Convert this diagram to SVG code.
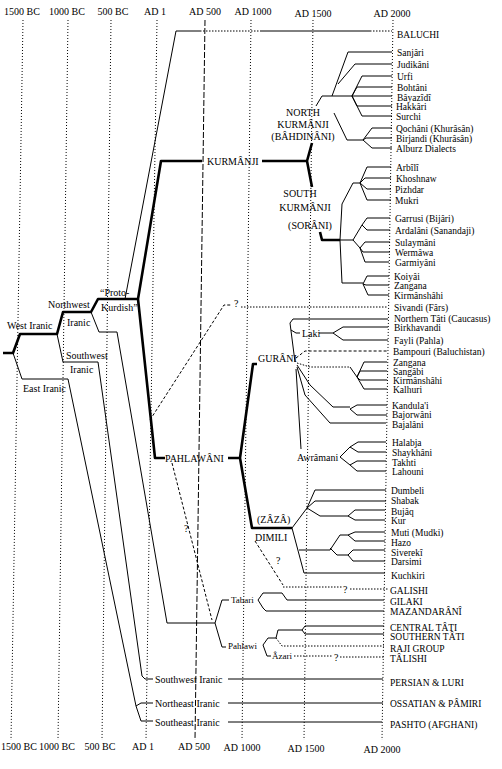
<svg xmlns="http://www.w3.org/2000/svg" width="502" height="769" viewBox="0 0 502 769">
<style>
text{font-family:"Liberation Serif","Times New Roman",serif;font-size:10px;fill:#000}
#leaves text{font-size:9.5px}
.s{font-size:9px}
.m{text-anchor:middle}
.t{stroke:#000;stroke-width:1;fill:none}
.k{stroke:#000;stroke-width:2.6;fill:none;stroke-linejoin:round}
.d{stroke-dasharray:1.5,1.5}
.q{stroke-dasharray:3,2}
.g{stroke:#000;stroke-width:1;fill:none;stroke-dasharray:1,2}
</style>
<rect width="502" height="769" fill="#fff"/>
<g id="timeline">
<path class="g" d="M23,20 L11,740 M68,20 L58,740 M111,20 L102,740 M157,20 L146,740 M251,20 L242,740 M313,20 L304,740 M393,20 L382,740"/>
<path class="g" style="stroke-dasharray:6,2" d="M205,20 L195,740"/>
<text class="m" x="22" y="15">1500 BC</text><text class="m" x="67" y="15">1000 BC</text><text class="m" x="113" y="15">500 BC</text><text class="m" x="155" y="15">AD 1</text><text class="m" x="205" y="15">AD 500</text><text class="m" x="253" y="15">AD 1000</text><text class="m" x="313" y="17">AD 1500</text><text class="m" x="392" y="17">AD 2000</text>
<text class="m" x="19" y="750">1500 BC</text><text class="m" x="57" y="750">1000 BC</text><text class="m" x="100" y="750">500 BC</text><text class="m" x="143" y="750">AD 1</text><text class="m" x="194" y="750">AD 500</text><text class="m" x="242" y="751">AD 1000</text><text class="m" x="306" y="752">AD 1500</text><text class="m" x="382" y="753">AD 2000</text>
</g>
<g id="connectors">
<path class="k" d="M3,353 H13 L20,334 H57 L63,312 H91 L98,299 H138 M138,299 L161,161 H202 M262,161 H307 L312,143 M307,161 L312,187 M320,232 L322,240 H340 M138,299 L155,458 H165 M228,458 H240 L253,364 H257 M240,458 L252,528 H292"/>
<path class="t" d="M13,353 L22,379 H68 L136,706 M141,703 L136,706 L141,721 H153 M141,703 H153"/>
<path class="t" d="M57,334 L63,362 H98 L142,676 L145,679 H153 M228,679 H383"/>
<path class="t" d="M91,312 L99,332 H117 L167,623 H215 M229,600 H222 L215,623 L222,647 H226"/>
<path class="t" d="M125,299 L176,31 H200 M260,31 H370"/>
<path class="t d" d="M200,31 H260 M370,31 H392"/>
<path class="t q" d="M172,463 L212,620 M150,420 L224,305 H232 M255,541 L283,585"/>
<path class="t d" d="M241,307 H388 M283,587 H342 M350,589 H388"/>
<path class="t" d="M316,106 L322,96 H392 M332,96 L348,52 H392 M338,84 L355,64 H392 M352,96 L362,76 H392 M352,96 L357,87 H392 M352,96 L357,106 H392 M352,96 L362,116 H392 M334,113 L347,140 H363 M363,140 L372,128 H392 M363,140 L366,138 H392 M363,140 L372,148 H392"/>
<path class="t" d="M340,240 L342,204 L353,183 H360 M360,183 L367,167 H391 M360,183 L365,178 H391 M360,183 L367,189 H391 M360,183 L367,200 H391 M340,240 H353 L362,225 M362,225 L367,218 H390 M362,225 L367,230 H390 M353,240 L360,248 M360,248 L365,242 H390 M360,248 L363,252 H390 M360,248 L365,262 H389 M340,240 L342,283 H363 M363,284 L367,276 H389 M363,284 L366,285 H389 M363,284 L368,295 H389"/>
<path class="t" d="M295,362 L290,323 L293,319 H388 M291,330 L296,333 H300 M319,333 H333 L343,327 H388 M333,333 L343,340 H388"/>
<path class="t q" d="M296,358 L305,351 H388"/>
<path class="t d" d="M297,363 L310,367 H350"/>
<path class="t" d="M350,367 L357,377 M357,377 L364,362 H387 M357,377 L360,371 H387 M357,377 L360,380 H387 M357,377 L364,389 H387"/>
<path class="t" d="M297,365 L310,385 L333,407 H350 M350,409 L357,405 H387 M350,409 L357,415 H387 M297,367 L305,395 L330,423 H386 M296,369 L301,449"/>
<path class="t" d="M340,457 L350,447 M350,447 L358,442 H386 M350,447 L358,452 H386 M340,457 L350,465 M350,465 L357,461 H386 M350,465 L357,471 H386"/>
<path class="t" d="M292,528 L307,508 M307,508 L315,490 H386 M307,508 L315,501 H386 M307,508 L320,516 H348 M348,516 L355,510 H385 M348,516 L355,520 H385 M292,528 L304,573 H385 M299,550 H330 L340,535 H348 M348,535 L355,532 H385 M348,535 L355,541 H385 M330,548 L337,555 H348 M348,555 L353,550 H385 M348,555 L353,561 H385"/>
<path class="t" d="M258,600 L263,593 H282 L287,600 H384 M258,600 L263,608 L266,611 H384"/>
<path class="t" d="M263,645 L268,638 H276 M276,638 L278,630 H302 M302,630 L305,626 H384 M302,630 L305,634 H384 M263,645 L267,656 H271"/>
<path class="t d" d="M276,638 L282,646 H384 M294,656 H332 M340,657 H384"/>
<path class="t" d="M228,703 H383 M228,722 H382"/>
</g>
<g id="n-root"><text x="7" y="328.5">West Iranic</text></g>
<g id="n-northwest"><text x="48" y="307.5">Northwest</text><text x="67" y="325.5">Iranic</text></g>
<g id="n-protokurdish"><text x="100" y="295.5">“Proto-</text><text x="101" y="310.5">Kurdish”</text></g>
<g id="n-southwest"><text x="66" y="358.5">Southwest</text><text x="70" y="372.5">Iranic</text></g>
<g id="n-east"><text x="23" y="391.5">East Iranic</text></g>
<g id="n-kurmanji"><text x="207" y="164.5">KURMÂNJI</text></g>
<g id="n-north"><text class="m" x="303" y="116">NORTH</text><text class="m" x="303" y="128">KURMÂNJI</text><text class="m" x="303" y="140">(BÂHDINÂNI)</text></g>
<g id="n-south"><text class="m" x="300" y="197">SOUTH</text><text class="m" x="305" y="211">KURMÂNJI</text><text class="m" x="310" y="228.5">(SORÂNI)</text></g>
<g id="n-pahlawani"><text x="165" y="461.5">PAHLAWÂNI</text></g>
<g id="n-gurani"><text x="258" y="362">GURÂNI</text></g>
<g id="n-dimili"><text x="257" y="522.5">(ZÂZÂ)</text><text x="255" y="540.5">DIMILI</text></g>
<g id="n-laki"><text x="302" y="336.5">Laki</text></g>
<g id="n-awramani"><text x="297" y="460.5">Awrâmani</text></g>
<g id="n-tabari"><text class="s" x="231" y="603">Tabari</text></g>
<g id="n-pahlawi"><text class="s" x="228" y="649">Pahlawi</text></g>
<g id="n-azari"><text class="s" x="272" y="659">Âzari</text></g>
<g id="n-swiranic"><text x="155" y="682.5">Southwest Iranic</text></g>
<g id="n-neiranic"><text x="155" y="706.5">Northeast Iranic</text></g>
<g id="n-seiranic"><text x="155" y="725.5">Southeast Iranic</text></g>
<g id="n-uncertain"><text x="234" y="306.5">?</text><text x="184" y="531.5">?</text><text x="276" y="563.5">?</text><text x="343" y="592.5">?</text><text x="334" y="660.5">?</text></g>
<g id="leaves">
<text x="397" y="37.5">BALUCHI</text>
<text x="397" y="55.5">Sanjâri</text>
<text x="397" y="67.5">Judikâni</text>
<text x="397" y="79.5">Urfi</text>
<text x="397" y="90.5">Bohtâni</text>
<text x="397" y="100.5">Bâyazîdî</text>
<text x="396" y="109.5">Hakkâri</text>
<text x="396" y="119.5">Surchi</text>
<text x="396" y="131.5">Qochâni (Khurâsân)</text>
<text x="396" y="141.5">Birjandi (Khurâsân)</text>
<text x="396" y="151.5">Alburz Dialects</text>
<text x="396" y="170.5">Arbîlî</text>
<text x="396" y="181.5">Khoshnaw</text>
<text x="395" y="192.5">Pizhdar</text>
<text x="395" y="203.5">Mukri</text>
<text x="395" y="221.5">Garrusi (Bijâri)</text>
<text x="395" y="233.5">Ardalâni (Sanandaji)</text>
<text x="395" y="245.5">Sulaymâni</text>
<text x="395" y="255.5">Wermâwa</text>
<text x="395" y="265.5">Garmiyâni</text>
<text x="394" y="279.5">Koiyâi</text>
<text x="394" y="288.5">Zangana</text>
<text x="394" y="298.5">Kirmânshâhi</text>
<text x="394" y="310.5">Sivandi (Fârs)</text>
<text x="394" y="322">Northern Tâti (Caucasus)</text>
<text x="394" y="331">Birkhavandi</text>
<text x="394" y="343.5">Fayli (Pahla)</text>
<text x="393" y="354.5">Bampouri (Baluchistan)</text>
<text x="393" y="366">Zangana</text>
<text x="393" y="374.5">Sangâbi</text>
<text x="393" y="383.5">Kirmânshâhi</text>
<text x="393" y="392.5">Kalhuri</text>
<text x="392" y="408.5">Kandula'i</text>
<text x="392" y="417.5">Bajorwâni</text>
<text x="392" y="427.5">Bajalâni</text>
<text x="392" y="445.5">Halabja</text>
<text x="392" y="455.5">Shaykhâni</text>
<text x="392" y="465.5">Takhti</text>
<text x="392" y="474.5">Lahouni</text>
<text x="391" y="493.5">Dumbeli</text>
<text x="391" y="503.5">Shabak</text>
<text x="391" y="514.5">Bujâq</text>
<text x="391" y="523.5">Kur</text>
<text x="391" y="535.5">Muti (Mudki)</text>
<text x="391" y="545.5">Hazo</text>
<text x="391" y="555.5">Siverekî</text>
<text x="391" y="564.5">Darsimi</text>
<text x="391" y="578.5">Kuchkiri</text>
<text x="390" y="593.5">GALISHI</text>
<text x="390" y="604.5">GILAKI</text>
<text x="390" y="614.5">MAZANDARÂNÎ</text>
<text x="390" y="630.5">CENTRAL TÂTI</text>
<text x="390" y="639.5">SOUTHERN TÂTI</text>
<text x="390" y="651.5">RAJI GROUP</text>
<text x="390" y="661.5">TÂLISHI</text>
<text x="390" y="685.5">PERSIAN &amp; LURI</text>
<text x="390" y="706.5">OSSATIAN &amp; PÂMIRI</text>
<text x="390" y="727.5">PASHTO (AFGHANI)</text>
</g>
</svg>
